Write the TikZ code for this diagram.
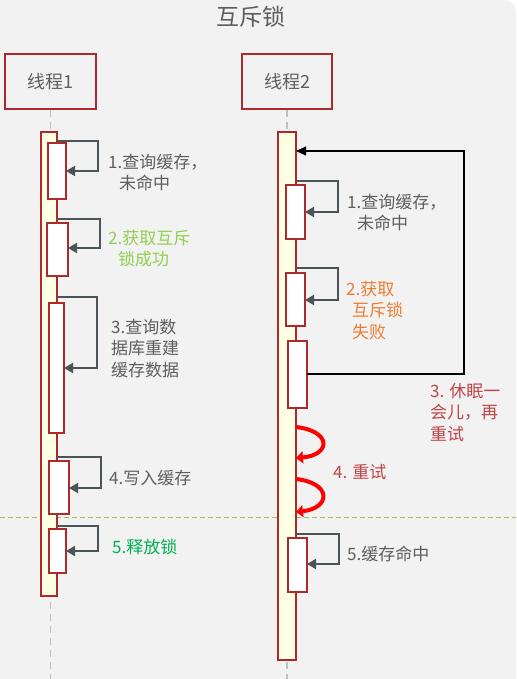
\documentclass[tikz,border=0pt]{standalone}
\usepackage{fontspec}
\setmainfont{Noto Sans CJK SC}
\usetikzlibrary{arrows.meta,calc,positioning}

\definecolor{bggray}{HTML}{F2F2F2}
\definecolor{boxred}{HTML}{AE2A2A}
\definecolor{baryellow}{HTML}{FFFFE3}
\definecolor{msggray}{HTML}{4A5459}
\definecolor{txtgray}{HTML}{5E5E5E}
\definecolor{lightgreen}{HTML}{92D050}
\definecolor{darkgreen}{HTML}{00B050}
\definecolor{lockorange}{HTML}{ED7D31}
\definecolor{sleepred}{HTML}{BF4545}
\definecolor{sepgreen}{HTML}{9BBB59}
\definecolor{lifegray}{HTML}{C0C0C0}

\begin{document}
\begin{tikzpicture}[x=1pt,y=-1pt,>=Latex,font=\fontsize{17}{21.5}\selectfont]
  \tikzset{
    actor/.style={draw=boxred,line width=2pt,text=txtgray,minimum width=91pt,minimum height=55pt,font=\fontsize{18}{22}\selectfont},
    lifebar/.style={draw=boxred,line width=2pt,fill=baryellow,inner sep=0pt,outer sep=0pt,anchor=north west},
    actbox/.style={draw=boxred,line width=2pt,fill=white,inner sep=0pt,outer sep=0pt,anchor=north west},
    lifeline/.style={draw=lifegray,line width=1.5pt,dash pattern=on 7pt off 5pt},
    selfmsg/.style={draw=msggray,line width=1.8pt,-{Triangle[length=9pt,width=10pt]}},
    loopmsg/.style={draw=black,line width=1.2pt,-{Triangle[length=10pt,width=9pt]}},
    retry/.style={draw=red,line width=4pt,-{Triangle[length=7pt,width=12pt]}},
    lbl/.style={anchor=north west,inner sep=0pt,align=left,text=txtgray}
  }

  \useasboundingbox (0,0) rectangle (516,679);
  \fill[bggray,rounded corners=12pt] (-20,0) rectangle (516,700);

  % title and the two threads
  \node[text=txtgray,font=\fontsize{23}{26}\selectfont] (title) at (251,17) {互斥锁};
  \node[actor] (t1) at (50.5,81.5) {线程1};
  \node[actor,minimum width=90pt] (t2) at (287,81.5) {线程2};

  \draw[lifeline] (t1.south) -- (t1.south |- 0,679);
  \draw[lifeline] (t2.south) -- (t2.south |- 0,679);

  \draw[sepgreen,line width=1pt,dash pattern=on 5pt off 3pt] (0,517) -- (516,517);

  \node[lifebar,minimum width=16pt,minimum height=464pt] (bar1) at (41,132) {};
  \node[lifebar,minimum width=18pt,minimum height=528pt] (bar2) at (278,132) {};

  % thread 1
  \node[actbox,minimum width=18pt,minimum height=56pt] (a1) at (48,143) {};
  \node[actbox,minimum width=21pt,minimum height=53pt] (a2) at (47,223) {};
  \node[actbox,minimum width=15pt,minimum height=130pt] (a3) at (49,303) {};
  \node[actbox,minimum width=20pt,minimum height=53pt] (a4) at (49,461) {};
  \node[actbox,minimum width=17pt,minimum height=44pt] (a5) at (49,529) {};

  \draw[selfmsg] (bar1.east |- 0,141) -- (98,141) |- (a1.east |- 0,171);
  \draw[selfmsg] (bar1.east |- 0,219) -- (100,219) |- (a2.east |- 0,248);
  \draw[selfmsg] (bar1.east |- 0,297) -- (97,297) |- (a3.east |- 0,368);
  \draw[selfmsg] (bar1.east |- 0,457) -- (101,457) |- (a4.east |- 0,488);
  \draw[selfmsg] (bar1.east |- 0,526) -- (98,526) |- (a5.east |- 0,551);

  \node[lbl] (l1) at (108,154) {1.查询缓存，\\\hspace*{11pt}未命中};
  \node[lbl,text=lightgreen] (l2) at (108,230) {2.获取互斥\\\hspace*{10pt}锁成功};
  \node[lbl] (l3) at (111,319) {3.查询数\\据库重建\\缓存数据};
  \node[lbl,anchor=west] (l4) at (109,478) {4.写入缓存};
  \node[lbl,anchor=west,text=darkgreen] (l5) at (112,547) {5.释放锁};

  % thread 2
  \node[actbox,minimum width=19pt,minimum height=54pt] (b1) at (286,185) {};
  \node[actbox,minimum width=19pt,minimum height=53pt] (b2) at (286,273) {};
  \node[actbox,minimum width=19pt,minimum height=67pt] (b3) at (288,341) {};
  \node[actbox,minimum width=19pt,minimum height=54pt] (b4) at (288,538) {};

  \draw[selfmsg] (bar2.east |- 0,181) -- (338,181) |- (b1.east |- 0,212);
  \draw[selfmsg] (bar2.east |- 0,268) -- (338,268) |- (b2.east |- 0,300);
  \draw[selfmsg] (bar2.east |- 0,534) -- (339,534) |- (b4.east |- 0,564);
  \draw[loopmsg] (b3.east |- 0,374) -- (464,374) |- (bar2.east |- 0,151);

  \draw[retry] (bar2.east |- 0,427) .. controls (332,431) and (331,455) .. (bar2.east |- 0,458);
  \draw[retry] (bar2.east |- 0,479) .. controls (332,483) and (331,508) .. (bar2.east |- 0,512);

  \node[lbl] (r1) at (347,194) {1.查询缓存，\\\hspace*{10pt}未命中};
  \node[lbl,text=lockorange] (r2) at (346,281) {2.获取\\\hspace*{6pt}互斥锁\\\hspace*{6pt}失败};
  \node[lbl,text=sleepred] (r3) at (430,383) {3. 休眠一\\会儿，再\\重试};
  \node[lbl,anchor=west,text=sleepred] (r4) at (333,472) {4. 重试};
  \node[lbl,anchor=west] (r5) at (347,554) {5.缓存命中};
\end{tikzpicture}
\end{document}
